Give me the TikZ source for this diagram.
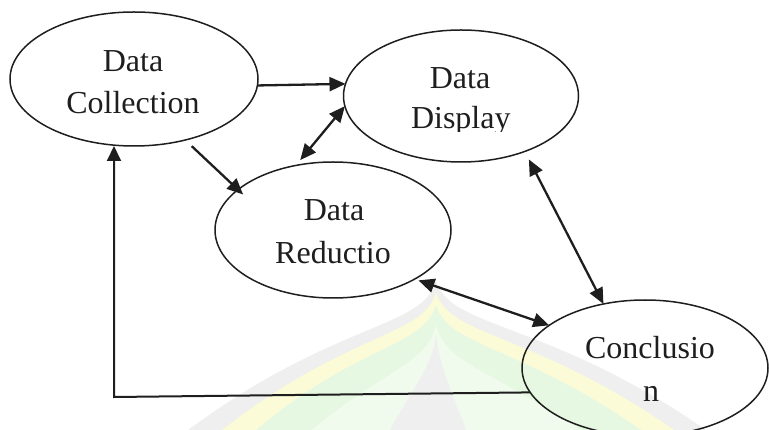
\documentclass[tikz,border=0pt]{standalone}
\usepackage{fontspec}
\setmainfont{Liberation Serif}
\usetikzlibrary{shapes.geometric,arrows.meta}
\definecolor{ink}{HTML}{1E1E1E}
\definecolor{wmgray}{HTML}{EFEFEF}
\definecolor{wmyellow}{HTML}{FBFBD8}
\definecolor{wmgreen}{HTML}{E6F8E1}
\definecolor{wmlight}{HTML}{F0FBEE}
\tikzset{
  bub/.style={ellipse, draw=ink, line width=1.5pt, inner sep=0pt, outer sep=0pt},
  lbl/.style={anchor=base, font=\fontsize{32}{38}\selectfont, text=ink, inner sep=0pt},
  tipA/.tip={Triangle[length=16pt,width=14pt]},
  arr/.style={draw=ink, line width=2.3pt, -tipA},
  darr/.style={draw=ink, line width=2.3pt, tipA-tipA},
  back/.style={draw=ink, line width=2pt, -{Triangle[length=15pt,width=14pt]}},
}
\begin{document}
\begin{tikzpicture}[x=1pt,y=-1pt]
\useasboundingbox (0,0) rectangle (769,430);
\clip (0,0) rectangle (769,430);
% faint background watermark
\fill[wmgray] (436,280) .. controls (425,330) and (330,320) .. (175,440) -- (720,440) .. controls (555,320) and (448,330) .. (436,280) -- cycle;
\fill[wmyellow] (436,292) .. controls (425,338) and (340,332) .. (210,440) -- (688,440) .. controls (540,332) and (448,338) .. (436,292) -- cycle;
\fill[wmgreen] (436,305) .. controls (425,348) and (350,345) .. (245,440) -- (655,440) .. controls (525,345) and (448,348) .. (436,305) -- cycle;
\fill[wmlight] (436,325) .. controls (428,365) and (380,370) .. (300,440) -- (595,440) .. controls (495,370) and (445,365) .. (436,325) -- cycle;
\fill[wmgray] (436,335) .. controls (432,370) and (410,390) .. (385,440) -- (470,440) .. controls (455,400) and (440,370) .. (436,335) -- cycle;

% ellipses
\node[bub, minimum width=248pt, minimum height=134pt] (coll) at (134,79) {};
\node[bub, minimum width=235pt, minimum height=132pt] (disp) at (461,96) {};
\node[bub, minimum width=236pt, minimum height=136pt] (red) at (333,230) {};
\node[bub, minimum width=246pt, minimum height=136pt] (conc) at (645,368) {};

% labels
\node[lbl] (t1) at (133,71.7) {Data};
\node[lbl] (t2) at (133,113.3) {Collection};
\node[lbl] (t3) at (460,88.3) {Data};
\begin{scope}
  \clip (340,40) rectangle (580,131.5);
  \node[lbl] (t4) at (460.8,128.3) {Display};
\end{scope}
\node[lbl] (t5) at (334,221) {Data};
\node[lbl] (t6) at (333,263.3) {Reductio};
\node[lbl] (t7) at (650,359) {Conclusio};
\node[lbl] (t8) at (651,401.7) {n};

% connectors
\draw[arr] (coll.-3) -- (disp.174.6);
\draw[arr, shorten <=9pt, shorten >=-7pt] (coll.-50) -- (red.157);
\draw[darr, shorten >=7pt] (disp.185.4) -- (red.120);
\draw[darr, shorten <=9pt] (disp.-41.7) -- (conc.123.7);
\draw[darr, shorten <=4pt] (red.-31.8) -- (conc.156);
\coordinate (corner) at (114,397);
\draw[back] (conc.192) -- (corner) -- (corner |- coll.south);
\end{tikzpicture}
\end{document}
